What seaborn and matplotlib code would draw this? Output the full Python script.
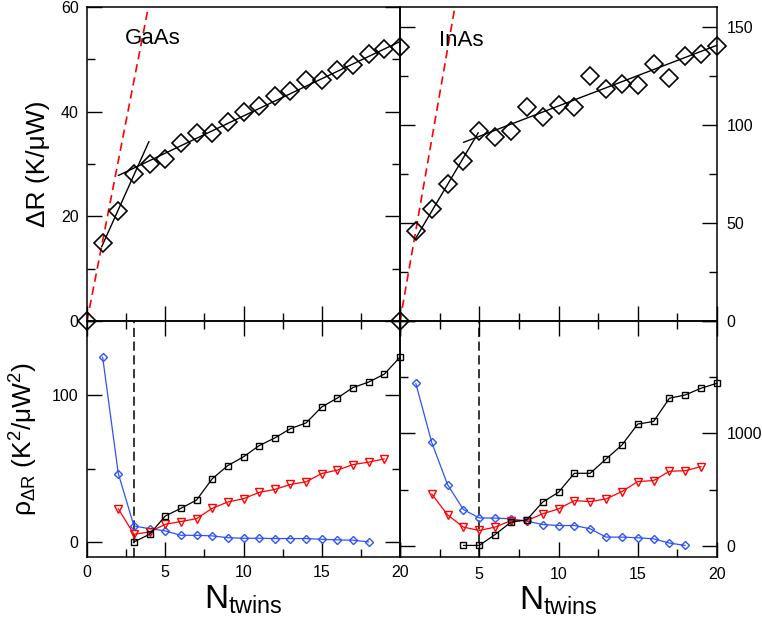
import numpy as np
import pandas as pd
import matplotlib
matplotlib.use("Agg")
import matplotlib.pyplot as plt
from matplotlib.ticker import MultipleLocator, FuncFormatter
import seaborn as sns

# ---------------- data ----------------
n_top = list(range(0, 21))
gaas_dR = [0, 15, 21, 28, 30, 31, 34, 36, 36, 38, 40, 41, 43, 44, 46, 46, 48, 49, 51, 52, 52.4]
inas_dR = [0, 46, 57, 70, 81.5, 97, 94, 97, 109, 104, 110, 109, 125, 118, 121, 120, 131, 124, 135, 136, 140]

gaas_fit1_x = [0.94, 3.96]
gaas_fit1_y = [14.2, 34.3]
gaas_fit2_x = [2.0, 20.0]
gaas_fit2_y = [27.8, 53.4]
gaas_slope_x = [0, 4]
gaas_slope_y = [0, 61.2]

inas_fit1_x = [0.95, 4.94]
inas_fit1_y = [41.6, 96]
inas_fit2_x = [4.0, 20.0]
inas_fit2_y = [91, 140.5]
inas_slope_x = [0, 3.5]
inas_slope_y = [0, 161.7]

blue_n = list(range(1, 19))
red_n = list(range(2, 20))
gaas_black_n = list(range(3, 21))
inas_black_n = list(range(4, 21))

gaas_blue = [125.5, 46.6, 11, 9.2, 7.7, 4.7, 4.7, 4.3, 3.1, 2.7, 2.7, 2.5, 2.5, 2.5, 2.0, 1.6, 1.4, 0.2]
gaas_red = [22.7, 5.4, 7, 12.2, 14, 16, 23, 27.3, 29.5, 33.8, 35.8, 39.2, 41, 46.6, 48.9, 52.7, 54.3, 56.5]
gaas_black = [0.2, 5.4, 17.8, 23, 28.6, 43, 52, 57.9, 65.5, 70.7, 77, 80.9, 91.7, 97.8, 104.9, 108.6, 114, 125.5]

inas_blue = [1444, 920, 544, 322, 248, 246, 240, 219, 189, 180, 180, 151, 77, 77, 71, 62, 24, 3]
inas_red = [461, 275, 166, 136, 166, 224, 224, 284, 328, 402, 393, 417, 482, 571, 580, 663, 668, 704]
inas_black = [3, 3, 100, 210, 231, 388, 476, 645, 645, 772, 896, 1083, 1106, 1313, 1342, 1402, 1446]

gaas_opt = 3
inas_opt = 5

labels = ["GaAs", "InAs"]

# ---------------- style ----------------
sns.set_theme(style="white")
plt.rcParams['font.family'] = ['Liberation Sans', 'DejaVu Sans']
plt.rcParams['mathtext.fontset'] = 'custom'
plt.rcParams['mathtext.rm'] = 'Liberation Sans'
plt.rcParams['mathtext.it'] = 'Liberation Sans'
plt.rcParams['mathtext.bf'] = 'Liberation Sans'
plt.rcParams['text.color'] = 'black'
plt.rcParams['axes.labelcolor'] = 'black'
plt.rcParams['xtick.color'] = 'black'
plt.rcParams['ytick.color'] = 'black'
plt.rcParams['xtick.labelcolor'] = 'black'
plt.rcParams['ytick.labelcolor'] = 'black'

BLUE = "#2f52f5"
RED = "#ff0000"

fig = plt.figure(figsize=(7.62, 6.18), dpi=100)
fig.patch.set_facecolor("white")

L0, M, R = 87/762, 400/762, 717/762
B0, MID, T = 1-557/618, 1-321/618, 1-7/618
ax_tl = fig.add_axes([L0, MID, M-L0, T-MID])
ax_tr = fig.add_axes([M, MID, R-M, T-MID])
ax_bl = fig.add_axes([L0, B0, M-L0, MID-B0])
ax_br = fig.add_axes([M, B0, R-M, MID-B0])

def line(ax, x, y, **kw):
    sns.lineplot(x=x, y=y, ax=ax, sort=False, estimator=None, **kw)

def markers(ax, x, y, color, marker, ms, lw=0.9, mew=1.0, ls='-'):
    sns.lineplot(x=x, y=y, ax=ax, sort=False, estimator=None, color=color,
                 linewidth=lw, linestyle=ls, marker=marker, markersize=ms,
                 markerfacecolor='none', markeredgecolor=color,
                 markeredgewidth=mew, clip_on=False, zorder=3)

# top-left
markers(ax_tl, n_top, gaas_dR, 'black', 'D', 9.0, lw=0, mew=1.2, ls='none')
line(ax_tl, gaas_fit1_x, gaas_fit1_y, color='black', linewidth=1.0)
line(ax_tl, gaas_fit2_x, gaas_fit2_y, color='black', linewidth=1.0)
line(ax_tl, gaas_slope_x, gaas_slope_y, color=RED, linewidth=1.2, linestyle=(0, (5, 3)))
ax_tl.text(2.45, 54, labels[0], fontsize=16, va='center', ha='left', color='black')

# top-right
markers(ax_tr, n_top, inas_dR, 'black', 'D', 9.0, lw=0, mew=1.2, ls='none')
line(ax_tr, inas_fit1_x, inas_fit1_y, color='black', linewidth=1.0)
line(ax_tr, inas_fit2_x, inas_fit2_y, color='black', linewidth=1.0)
line(ax_tr, inas_slope_x, inas_slope_y, color=RED, linewidth=1.2, linestyle=(0, (5, 3)))
ax_tr.text(2.45, 143, labels[1], fontsize=16, va='center', ha='left', color='black')

# bottom-left
markers(ax_bl, blue_n, gaas_blue, BLUE, 'D', 3.9)
markers(ax_bl, red_n, gaas_red, RED, 'v', 5.5)
markers(ax_bl, gaas_black_n, gaas_black, 'black', 's', 4.6)
ax_bl.axvline(gaas_opt, color='black', linewidth=1.1, linestyle=(0, (6, 3)))

# bottom-right
markers(ax_br, blue_n, inas_blue, BLUE, 'D', 3.9)
markers(ax_br, red_n, inas_red, RED, 'v', 5.5)
markers(ax_br, inas_black_n, inas_black, 'black', 's', 4.6)
ax_br.axvline(inas_opt, color='black', linewidth=1.1, linestyle=(0, (6, 3)))

# axes limits & ticks
ax_tl.set_ylim(0, 60)
ax_tr.set_ylim(0, 160)
ax_bl.set_ylim(-10, 150)
ax_br.set_ylim(-100, 2000)

for ax in (ax_tl, ax_tr, ax_bl, ax_br):
    ax.set_xlim(0, 20)
    ax.patch.set_visible(False)
    ax.xaxis.set_major_locator(MultipleLocator(5))
    ax.xaxis.set_minor_locator(MultipleLocator(2.5))
    for s in ax.spines.values():
        s.set_linewidth(1.1)
        s.set_color('black')
    ax.tick_params(which='major', direction='in', length=11, width=1.0, color='black',
                   labelcolor='black', labelsize=11.5, pad=6)
    ax.tick_params(which='minor', direction='in', length=6, width=1.0, color='black')
    ax.set_xlabel("")
    ax.set_ylabel("")

ax_tl.yaxis.set_major_locator(MultipleLocator(20))
ax_tl.yaxis.set_minor_locator(MultipleLocator(10))
ax_tr.yaxis.set_major_locator(MultipleLocator(50))
ax_tr.yaxis.set_minor_locator(MultipleLocator(25))
ax_bl.yaxis.set_major_locator(MultipleLocator(100))
ax_bl.yaxis.set_minor_locator(MultipleLocator(50))
ax_br.yaxis.set_major_locator(MultipleLocator(1000))
ax_br.yaxis.set_minor_locator(MultipleLocator(500))

for ax in (ax_tl, ax_tr):
    ax.tick_params(which='both', top=False, bottom=True, left=True, right=True,
                   labelbottom=False, labeltop=False)
for ax in (ax_bl, ax_br):
    ax.tick_params(which='both', top=True, bottom=True, left=True, right=True,
                   labelbottom=True, labeltop=False)

for ax in (ax_tl, ax_bl):
    ax.tick_params(which='both', labelleft=True, labelright=False)
for ax in (ax_tr, ax_br):
    ax.tick_params(which='both', labelleft=False, labelright=True)
ax_tr.tick_params(which='major', pad=7)
ax_br.tick_params(which='major', pad=7)

ax_br.xaxis.set_major_formatter(FuncFormatter(lambda v, p: "" if abs(v) < 1e-9 else f"{v:g}"))
ax_br.yaxis.set_major_formatter(FuncFormatter(lambda v, p: "" if v > 1500 else f"{v:g}"))
ax_bl.yaxis.set_major_formatter(FuncFormatter(lambda v, p: f"{v:g}"))

ax_tl.set_ylabel("ΔR (K/μW)", fontsize=19, labelpad=8, color='black')
ax_bl.set_ylabel(r"$\rho_{\Delta\mathrm{R}}$ (K$^2$/μW$^2$)", fontsize=19, labelpad=9, color='black')
ax_bl.set_xlabel(r"N$_{\mathrm{twins}}$", fontsize=24, labelpad=2, color='black')
ax_br.set_xlabel(r"N$_{\mathrm{twins}}$", fontsize=24, labelpad=2, color='black')

fig.savefig("out.png", dpi=100)
